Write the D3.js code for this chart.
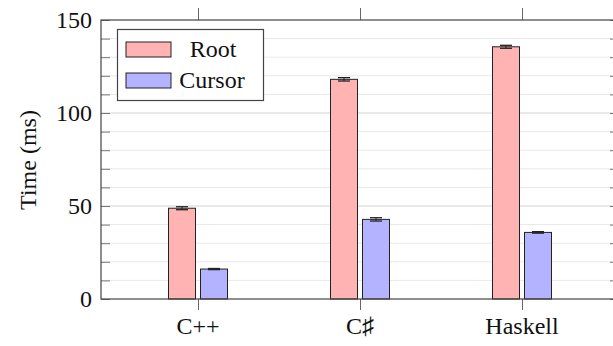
<!DOCTYPE html>
<html>
<head>
<meta charset="utf-8">
<script src="https://cdn.jsdelivr.net/npm/d3@7"></script>
<style>
  body { margin: 0; background: #fff; }
  svg { display: block; }
</style>
</head>
<body>
<svg id="chart" width="613" height="346" font-family="'Liberation Serif', 'Times New Roman', Times, serif"></svg>
<script>
// data
var categories = ["C++", "C\u266F", "Haskell"];
var seriesNames = ["Root", "Cursor"];
var rootValues = [48.8, 118.1, 135.6];
var rootErrors = [0.8, 0.9, 0.8];
var cursorValues = [16.1, 42.8, 35.8];
var cursorErrors = [0.3, 0.9, 0.4];
var yTicks = [0, 50, 100, 150];

var colors = { Root: "#ffb3b3", Cursor: "#b3b3ff" };

var svg = d3.select("#chart");
var plotLeft = 101, plotRight = 619, plotTop = 20, plotBottom = 299;

var y = d3.scaleLinear().domain([0, 150]).range([plotBottom, plotTop]);
var x = d3.scalePoint().domain(categories).range([198, 522]);
var sub = d3.scaleBand().domain(seriesNames).range([-29.5, 29.5]).paddingInner(0.15625);

// grid: minor every 10, major at labelled ticks
var minor = d3.range(10, 150, 10).filter(function(v) { return v % 50 !== 0; });
svg.append("g").selectAll("line").data(minor).enter().append("line")
    .attr("x1", plotLeft).attr("x2", plotRight)
    .attr("y1", function(d) { return y(d); }).attr("y2", function(d) { return y(d); })
    .attr("stroke", "#e8e8e8").attr("stroke-width", 1);
svg.append("g").selectAll("line").data([50, 100]).enter().append("line")
    .attr("x1", plotLeft).attr("x2", plotRight)
    .attr("y1", function(d) { return y(d); }).attr("y2", function(d) { return y(d); })
    .attr("stroke", "#d4d4d4").attr("stroke-width", 1.2);

// y axis (left and right, ticks inward)
var yLeft = d3.axisRight(y).tickValues(d3.range(0, 151, 10)).tickSize(9).tickFormat("");
var gl = svg.append("g").attr("transform", "translate(" + plotLeft + ",0)").call(yLeft);
gl.select(".domain").remove();
gl.selectAll(".tick line").attr("stroke", "#777");
var yRight = d3.axisLeft(y).tickValues(d3.range(0, 151, 10)).tickSize(9).tickFormat("");
var gr = svg.append("g").attr("transform", "translate(" + plotRight + ",0)").call(yRight);
gr.select(".domain").remove();
gr.selectAll(".tick line").attr("stroke", "#777");

// y labels
svg.append("g").selectAll("text").data(yTicks).enter().append("text")
    .attr("x", 92).attr("y", function(d) { return y(d) + 8; })
    .attr("text-anchor", "end").attr("font-size", 24).attr("fill", "#111")
    .text(function(d) { return d; });

// x ticks outward, top and bottom
var xb = svg.append("g").attr("transform", "translate(0," + plotBottom + ")")
    .call(d3.axisBottom(x).tickSize(11).tickFormat(""));
xb.select(".domain").remove();
xb.selectAll(".tick line").attr("stroke", "#666");
var xt = svg.append("g").attr("transform", "translate(0," + plotTop + ")")
    .call(d3.axisTop(x).tickSize(12).tickFormat(""));
xt.select(".domain").remove();
xt.selectAll(".tick line").attr("stroke", "#666");

svg.append("g").selectAll("text").data(categories).enter().append("text")
    .attr("x", function(d) { return x(d); }).attr("y", 334)
    .attr("text-anchor", "middle").attr("font-size", 24).attr("fill", "#111")
    .text(function(d) { return d; });

// bars
var rows = [];
categories.forEach(function(c, i) {
  rows.push({ cat: c, s: "Root", v: rootValues[i], e: rootErrors[i] });
  rows.push({ cat: c, s: "Cursor", v: cursorValues[i], e: cursorErrors[i] });
});

svg.append("g").selectAll("rect").data(rows).enter().append("rect")
    .attr("x", function(d) { return x(d.cat) + sub(d.s); })
    .attr("y", function(d) { return y(d.v); })
    .attr("width", sub.bandwidth())
    .attr("height", function(d) { return y(0) - y(d.v); })
    .attr("fill", function(d) { return colors[d.s]; })
    .attr("stroke", "#222").attr("stroke-width", 1);

// error bars
var eb = svg.append("g").attr("stroke", "#222").attr("stroke-width", 1);
rows.forEach(function(d) {
  var cx = x(d.cat) + sub(d.s) + sub.bandwidth() / 2;
  eb.append("line").attr("x1", cx).attr("x2", cx)
      .attr("y1", y(d.v - d.e)).attr("y2", y(d.v + d.e));
  [d.v - d.e, d.v + d.e].forEach(function(v) {
    eb.append("line").attr("x1", cx - 6).attr("x2", cx + 6)
        .attr("y1", y(v)).attr("y2", y(v)).attr("stroke-width", 1.3);
  });
});

// frame
svg.append("rect").attr("x", plotLeft).attr("y", plotTop)
    .attr("width", plotRight - plotLeft).attr("height", plotBottom - plotTop)
    .attr("fill", "none").attr("stroke", "#444").attr("stroke-width", 1.2);

// y title
svg.append("text").attr("transform", "translate(36,160) rotate(-90)")
    .attr("text-anchor", "middle").attr("font-size", 24).attr("fill", "#111")
    .text("Time (ms)");

// legend
var lg = svg.append("g");
lg.append("rect").attr("x", 117.5).attr("y", 29.5).attr("width", 146).attr("height", 71)
    .attr("fill", "#fff").attr("stroke", "#444").attr("stroke-width", 1.2);
seriesNames.forEach(function(s, i) {
  var yy = 42 + i * 31;
  lg.append("rect").attr("x", 126).attr("y", yy).attr("width", 45).attr("height", 15)
      .attr("fill", colors[s]).attr("stroke", "#222").attr("stroke-width", 1);
  lg.append("text").attr("x", i === 0 ? 213 : 212).attr("y", yy + 15)
      .attr("text-anchor", "middle").attr("font-size", 24).attr("fill", "#111").text(s);
});
</script>
</body>
</html>
